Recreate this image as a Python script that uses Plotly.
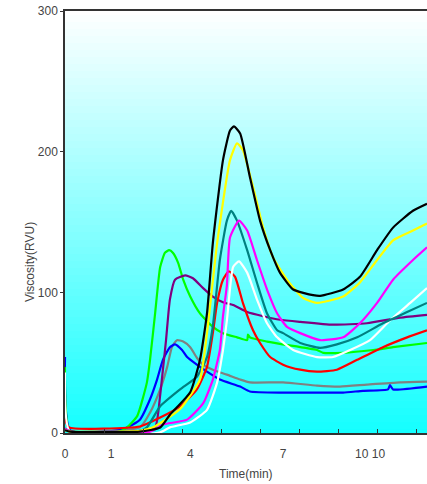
import numpy as np
import plotly.graph_objects as go

# ---- data (time in min, viscosity in RVU) ----
black_t = [0, 0.13, 1.92, 2.44, 2.69, 3.21, 3.46, 3.64, 3.79, 4.05, 4.23, 4.33, 4.49, 4.74, 5.0, 5.26, 5.51, 5.85, 6.36, 6.54, 7.13, 7.56, 8.0, 8.41, 8.92, 9.28]
black_v = [2, 1, 1, 3.9, 13, 29, 52, 85, 135, 194, 215, 218, 213, 182, 151, 130, 114, 102, 98, 97.5, 102, 111, 130, 146, 158, 163]

yellow_t = [0, 0.13, 1.92, 2.26, 2.95, 3.46, 3.64, 3.9, 4.23, 4.41, 4.56, 4.82, 5.08, 5.33, 5.69, 6.1, 6.46, 7.13, 7.56, 8.0, 8.41, 8.92, 9.28]
yellow_v = [2, 1, 1.5, 4, 17, 38, 71, 135, 194, 206, 201, 175, 146, 125, 109, 96, 92.5, 97, 107, 123, 137, 144, 149]

teal_t = [0, 0.13, 1.92, 2.1, 2.44, 2.95, 3.38, 3.64, 3.79, 3.97, 4.15, 4.26, 4.41, 4.67, 4.92, 5.18, 5.44, 5.59, 6.03, 6.54, 6.97, 7.49, 8.15, 8.77, 9.28]
teal_v = [3, 1, 1.5, 4, 19, 31, 40, 54, 76, 123, 151, 158, 151, 130, 107, 85, 73, 71, 64, 60.5, 63, 68, 78, 86, 92.5]

magenta_t = [0, 0.13, 2.18, 2.51, 3.13, 3.54, 3.79, 3.97, 4.05, 4.15, 4.23, 4.46, 4.67, 4.92, 5.18, 5.44, 5.69, 6.03, 6.54, 7.13, 7.56, 8.0, 8.41, 8.92, 9.28]
magenta_v = [3, 1, 1, 6, 9.5, 21, 38, 59, 83, 105, 139, 151, 144, 123, 102, 85, 75.5, 71, 66, 68, 78, 92.5, 109, 123, 132]

white_t = [0, 0.13, 2.44, 2.69, 3.21, 3.64, 3.9, 4.05, 4.15, 4.31, 4.46, 4.67, 4.92, 5.18, 5.44, 5.85, 6.46, 6.87, 7.31, 7.82, 8.33, 8.85, 9.28]
white_v = [43, 0.5, 0.5, 4, 7.5, 16.5, 36, 59, 80, 118, 122, 114, 95, 78, 68, 59, 54, 54, 59, 66, 80, 92.5, 103]

red_t = [0, 0.1, 1.92, 2.44, 2.95, 3.38, 3.64, 3.79, 3.9, 4.05, 4.2, 4.36, 4.56, 4.82, 5.0, 5.26, 5.59, 6.03, 6.46, 6.97, 7.49, 8.15, 8.77, 9.28]
red_v = [10, 4, 4.6, 11, 19, 31, 47, 71, 92.5, 109, 115, 111, 92.5, 73, 64, 54, 48.6, 45, 43.6, 45, 52, 61, 68, 73]

green_t = [0, 0.13, 1.4, 1.59, 1.85, 2.1, 2.18, 2.31, 2.44, 2.56, 2.67, 2.77, 2.9, 3.03, 3.21, 3.46, 3.79, 4.05, 4.41, 4.67, 4.69, 4.74, 5.18, 5.59, 6.46, 6.62, 7.13, 7.9, 8.41, 9.28]
green_v = [47, 0.5, 1, 4, 12, 36, 52, 85, 118, 128, 130, 128, 121, 109, 97, 85, 75.5, 71, 68, 66, 70, 68, 65, 63, 59, 57, 57, 59, 61, 64]

purple_t = [0, 0.13, 1.92, 2.31, 2.44, 2.51, 2.59, 2.69, 2.82, 3.08, 3.28, 3.54, 3.79, 4.05, 4.31, 4.67, 5.08, 5.51, 6.03, 6.87, 7.74, 8.59, 9.28]
purple_v = [3, 1, 1.5, 4, 27, 45, 66, 95, 109, 112, 110, 103, 97, 93, 91, 86, 83, 80.5, 79, 77, 78, 82, 84]

gray_t = [0, 0.13, 1.92, 2.18, 2.44, 2.62, 2.74, 2.87, 3.03, 3.21, 3.38, 3.54, 3.79, 4.15, 4.49, 4.74, 5.59, 6.46, 7.05, 7.74, 8.59, 9.28]
gray_v = [3, 1, 4, 14.5, 31, 47, 61, 66, 65, 61, 53.5, 48.6, 45, 41.5, 38, 36, 36, 33.7, 33, 34.4, 36, 36.5]

blue_t = [0, 0.13, 1.4, 1.59, 1.92, 2.18, 2.36, 2.51, 2.69, 2.82, 3.0, 3.13, 3.38, 3.64, 3.97, 4.49, 4.74, 5.59, 6.46, 7.13, 7.64, 8.28, 8.33, 8.41, 9.28]
blue_v = [54, 2, 2, 4, 9.5, 24, 38, 52, 61, 63, 59, 54, 48.6, 43.6, 38, 33, 29.5, 28.7, 28.7, 28.7, 30, 31, 34, 31, 33]

series = [
    ("gray", "#808080", gray_t, gray_v),
    ("blue", "#0000ff", blue_t, blue_v),
    ("green", "#00ff00", green_t, green_v),
    ("purple", "#800080", purple_t, purple_v),
    ("red", "#ff0000", red_t, red_v),
    ("white", "#ffffff", white_t, white_v),
    ("teal", "#008080", teal_t, teal_v),
    ("magenta", "#ff00ff", magenta_t, magenta_v),
    ("yellow", "#ffff00", yellow_t, yellow_v),
    ("black", "#000000", black_t, black_v),
]

x_tick_vals = [0, 1.18, 3.21, 5.59, 7.82]
x_tick_text = ["0", "1", "4", "7", "10 10"]
x_minor_vals = [1, 2, 3, 4, 5, 6, 7, 8, 9]
y_tick_vals = [0, 100, 200, 300]

X_MAX = 9.28
Y_MAX = 300

fig = go.Figure()

# gradient background
bg_y = np.linspace(-5, 305, 63)
fig.add_trace(go.Heatmap(
    x=[-0.5, X_MAX + 0.5], y=bg_y, z=[[v, v] for v in bg_y],
    colorscale=[[0, "#14ffff"], [1, "#ffffff"]], zmin=0, zmax=300,
    showscale=False, hoverinfo="skip"))

for name, color, t, v in series:
    fig.add_trace(go.Scatter(x=t, y=v, mode="lines", name=name,
                             line=dict(color=color, width=2.2, shape="spline", smoothing=0.5),
                             showlegend=False))

font_family = "Liberation Sans Narrow, Arial Narrow, Liberation Sans, Arial, sans-serif"
fig.update_layout(
    width=427, height=484,
    margin=dict(l=65, r=0, t=10.5, b=50.5),
    paper_bgcolor="white", plot_bgcolor="white",
    font=dict(family=font_family, size=12, color="#444"),
    xaxis=dict(range=[0, X_MAX], showgrid=False, zeroline=False,
               showline=True, linecolor="#333", linewidth=1.5, mirror=True,
               tickmode="array", tickvals=x_tick_vals, ticktext=x_tick_text,
               ticks="", ticklabelstandoff=9, ticklabeloverflow="allow",
               minor=dict(tickvals=x_minor_vals, ticks="inside", ticklen=4,
                          tickcolor="#333", tickwidth=1.2, showgrid=False)),
    yaxis=dict(range=[0, Y_MAX], showgrid=False, zeroline=False,
               showline=True, linecolor="#333", linewidth=1.5,
               tickmode="array", tickvals=y_tick_vals, ticklabeloverflow="allow",
               ticks="outside", ticklen=3, tickcolor="#333"),
    annotations=[
        dict(text="Time(min)", xref="paper", yref="paper", x=0.5, y=0,
             yshift=-41, showarrow=False, yanchor="middle",
             font=dict(size=12, color="#444")),
        dict(text="Viscosity(RVU)", xref="paper", yref="paper", x=0, y=0.405,
             xshift=-35, showarrow=False, textangle=-90, xanchor="center",
             yanchor="middle", font=dict(size=12, color="#444")),
    ],
)

# remove the page's default body margin so the figure sits at the window's top-left
fig.write_html("out.html", config={"displayModeBar": False},
               post_script="document.body.style.margin='0';document.body.style.overflow='hidden';")
